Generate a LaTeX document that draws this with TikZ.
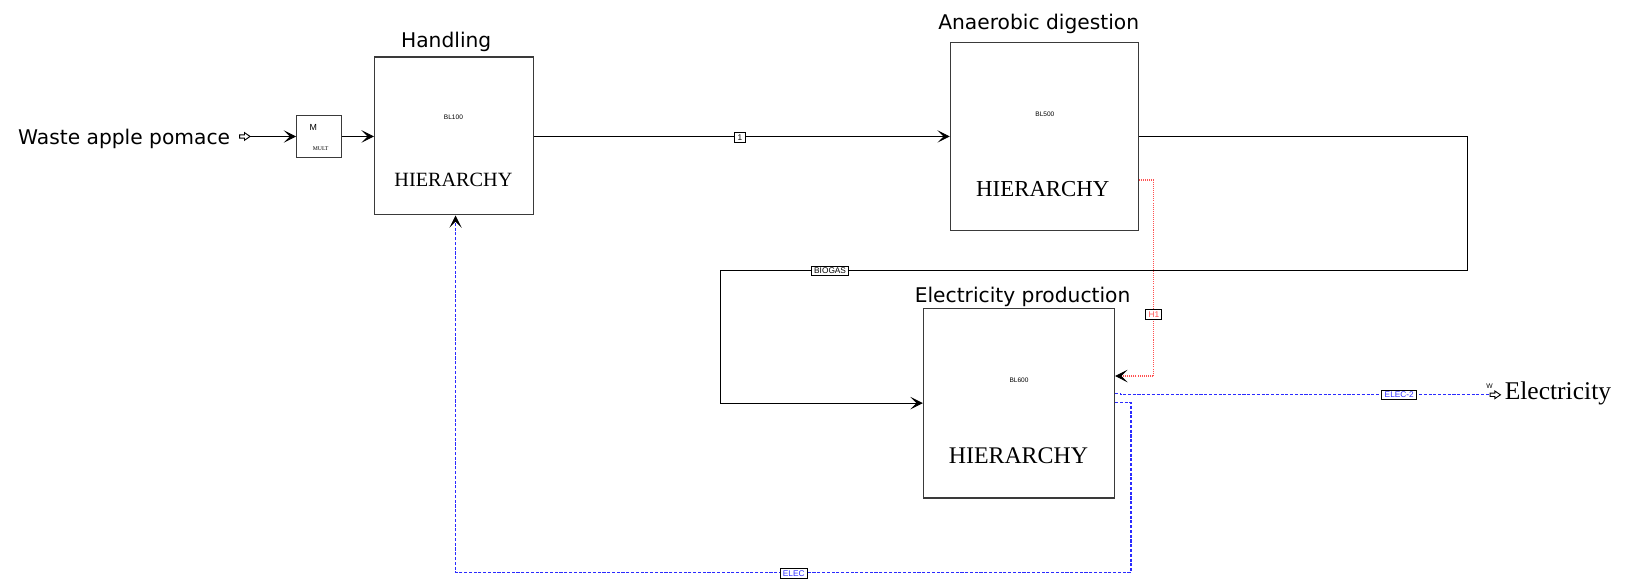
\documentclass[tikz,border=0pt]{standalone}
\usepackage{fontspec}
\setmainfont{Liberation Serif}
\newfontfamily\dvs{DejaVu Sans}
\newfontfamily\lsans{Liberation Sans}
\usetikzlibrary{arrows.meta}
\definecolor{boxgray}{HTML}{3A3A3A}
\definecolor{elblue}{HTML}{2B2BFF}
\definecolor{elred}{HTML}{FF5050}
\tikzset{
  blk/.style={draw=boxgray, line width=1.3pt, fill=white, inner sep=0pt},
  ttl/.style={font={\dvs\fontsize{19.5}{22}\selectfont}, inner sep=0pt, anchor=base},
  hier/.style={font={\fontsize{#1}{#1}\selectfont}, inner sep=0pt, anchor=base},
  blid/.style={font={\lsans\fontsize{6.3}{7}\selectfont}, inner sep=0pt},
  strm/.style={line width=1.1pt, draw=black},
  tip/.style={-{Stealth[length=12pt,width=12pt,inset=6pt,line width=0.8pt,color=black]}},
  heat/.style={line width=1.1pt, draw=elred, dash pattern=on 1pt off 1pt},
  work/.style={line width=1.1pt, draw=elblue, dash pattern=on 3pt off 1.6pt},
  lab/.style={draw=black, fill=white, line width=0.8pt, inner xsep=0.8pt, inner ysep=0pt,
     minimum height=9pt, font={\lsans\fontsize{8}{8}\selectfont}},
  feedarrow/.style={draw=black, line width=0.9pt, fill=white},
}
\begin{document}
\begin{tikzpicture}[x=1pt,y=-1pt]
\useasboundingbox (0,0) rectangle (1568,566);

% blocks
\node[blk, minimum width=43pt, minimum height=41pt] (mult) at (307.5,131.5) {};
\node[font={\lsans\fontsize{8.5}{9}\selectfont}, inner sep=0pt] (mlab) at (302,122.5) {M};
\node[font={\fontsize{5.5}{6}\selectfont}, inner sep=0pt] (mtype) at (309,143.5) {MULT};

\node[blk, minimum width=153pt, minimum height=152pt] (hand) at (437.5,131) {};
\node[blid] (hid) at (437,113) {BL100};
\node[hier=19.5] (hh) at (437,180) {HIERARCHY};
\node[ttl] (ht) at (430,45.5) {Handling};

\node[blk, minimum width=181pt, minimum height=181pt] (ad) at (1006.5,131.5) {};
\node[blid] (adid) at (1007,110) {BL500};
\node[hier=22] (adh) at (1005,189) {HIERARCHY};
\node[ttl] (adt) at (1001,28.3) {Anaerobic digestion};

\node[blk, minimum width=184pt, minimum height=183pt] (ep) at (982,388.5) {};
\node[blid] (epid) at (982,366) {BL600};
\node[hier=23] (eph) at (981.5,446.5) {HIERARCHY};
\node[ttl] (ept) at (985.5,291.7) {Electricity production};

% feed
\node[font={\dvs\fontsize{19.5}{22}\selectfont}, inner sep=0pt, anchor=base east] (waste) at (222,139) {Waste apple pomace};
\draw[feedarrow] (231,129.9) -- (235.6,129.9) -- (235.6,127.8) -- (241,131.5) -- (235.6,135.2) -- (235.6,133.1) -- (231,133.1) -- cycle;
\coordinate (feedtip) at (241,131.5);
\draw[strm, tip] (feedtip) -- (mult.west);
\draw[strm, tip] (mult.east) -- (hand.west |- mult.east);

% stream 1
\draw[strm, tip] (hand.east |- ad.west) -- (ad.west);
\node[lab, minimum width=11pt] (s1) at (713,132.5) {1};

% biogas
\coordinate (b1) at (1414,131.5);
\coordinate (b2) at (694,261);
\draw[strm, tip] (ad.east) -- (b1) |- (b2) |- (ep.west);
\node[lab, minimum width=36pt] (sbio) at (800,261) {BIOGAS};

% heat H1
\coordinate (r1) at (1112,362.4);
\draw[heat, tip] ([yshift=-42pt]ad.east) -| (r1) -- (r1 -| ep.east);
\node[lab, minimum width=15.5pt, text=elred, minimum height=9.7pt] (sh1) at (1112,302.8) {H1};

% ELEC-2
\coordinate (e2a) at (1080,380.5);
\coordinate (feed2) at (1436,380.5);
\draw[work] ([yshift=9.5pt]ep.east) -| (e2a) -- (feed2);
\node[lab, minimum width=34pt, text=elblue, minimum height=8.4pt] (se2) at (1348.5,380.5) {ELEC-2};
\draw[feedarrow] (1436,378.9) -- (1440.6,378.9) -- (1440.6,376.8) -- (1446,380.5) -- (1440.6,384.2) -- (1440.6,382.1) -- (1436,382.1) -- cycle;
\node[font={\lsans\fontsize{6.5}{7}\selectfont}, inner sep=0pt] (wlab) at (1435.5,372) {W};
\node[font={\fontsize{24.6}{26}\selectfont}, inner sep=0pt, anchor=base west] (elec) at (1450,385) {Electricity};

% ELEC
\coordinate (e1) at (1090,551.6);
\draw[work, tip] ([yshift=0.5pt]ep.east) -| (e1) -| ([xshift=1.5pt]hand.south);
\node[lab, minimum width=26.4pt, text=elblue, minimum height=9.7pt] (se1) at (765,552.5) {ELEC};
\end{tikzpicture}
\end{document}
